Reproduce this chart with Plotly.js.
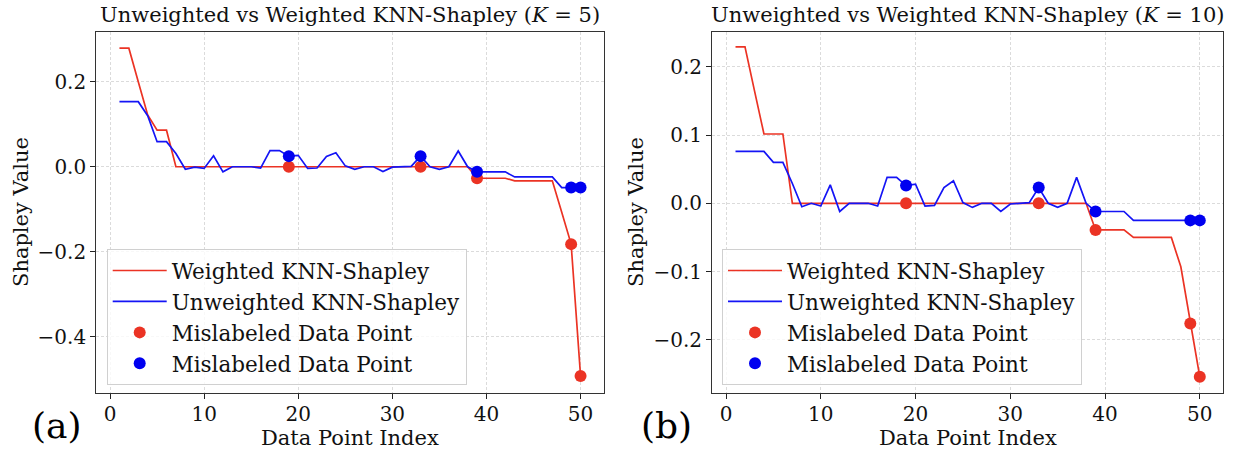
<!DOCTYPE html>
<html>
<head>
<meta charset="utf-8">
<script src="https://cdn.plot.ly/plotly-3.0.1.min.js"></script>
<style>html,body{margin:0;padding:0;background:#fff;}#chart{width:1236px;height:449px;}</style>
</head>
<body>
<div id="chart"></div>
<script>
// ---- data ----
const pointIndex = [1,2,3,4,5,6,7,8,9,10,11,12,13,14,15,16,17,18,19,20,21,22,23,24,25,26,27,28,29,30,31,32,33,34,35,36,37,38,39,40,41,42,43,44,45,46,47,48,49,50];
const mislabeledIdx = [19, 33, 39, 49, 50];

// (a) K = 5
const weightedK5 = [0.279,0.279,0.200,0.122,0.086,0.086,0,0,0,0,
  0,0,0,0,0,0,0,0,0,0,
  0,0,0,0,0,0,0,0,0,0,
  0,0,0,0,0,0,0,0,-0.027,-0.027,
  -0.027,-0.027,-0.033,-0.033,-0.033,-0.033,-0.033,-0.107,-0.182,-0.492];
const unweightedK5 = [0.153,0.153,0.153,0.120,0.059,0.059,0.031,-0.006,-0.001,-0.004,
  0.026,-0.012,0,0,0,-0.003,0.038,0.038,0.025,0.027,
  -0.004,-0.003,0.024,0.033,0.002,-0.006,0,0,-0.011,-0.001,
  0,0.001,0.025,0,-0.006,0,0.037,0,-0.012,-0.012,
  -0.012,-0.012,-0.024,-0.024,-0.024,-0.024,-0.024,-0.049,-0.049,-0.049];

// (b) K = 10
const weightedK10 = [0.229,0.229,0.165,0.1015,0.1015,0.1015,0,0,0,0,
  0,0,0,0,0,0,0,0,0,0,
  0,0,0,0,0,0,0,0,0,0,
  0,0,0,0,0,0,0,0,-0.039,-0.039,
  -0.039,-0.039,-0.050,-0.050,-0.050,-0.050,-0.050,-0.093,-0.176,-0.254];
const unweightedK10 = [0.076,0.076,0.076,0.076,0.060,0.060,0.029,-0.005,0,-0.004,
  0.027,-0.012,0,0,0,-0.004,0.038,0.038,0.026,0.028,
  -0.004,-0.003,0.023,0.033,0.001,-0.006,0,0,-0.012,-0.001,
  0,0.001,0.023,0,-0.006,0,0.038,0,-0.012,-0.012,
  -0.012,-0.012,-0.025,-0.025,-0.025,-0.025,-0.025,-0.025,-0.025,-0.025];

const seriesNames = ['Weighted KNN-Shapley','Unweighted KNN-Shapley','Mislabeled Data Point','Mislabeled Data Point'];
const panelTitles = ['Unweighted vs Weighted KNN-Shapley (<i>K</i> = 5)','Unweighted vs Weighted KNN-Shapley (<i>K</i> = 10)'];
const panelLabels = ['(a)','(b)'];
const xTitle = 'Data Point Index';
const yTitle = 'Shapley Value';

// ---- styling ----
const FONT = 'DejaVu Serif, Liberation Serif, serif';
const RED = '#eb3324';
const BLUE = '#1414f5';
const W = 1236, H = 449;

function pick(values){ return mislabeledIdx.map(i => values[pointIndex.indexOf(i)]); }

function panelTraces(weighted, unweighted, xa, ya, legendId){
  return [
    {x: pointIndex, y: weighted, type:'scatter', mode:'lines', name: seriesNames[0],
     line:{color:RED, width:1.7}, xaxis:xa, yaxis:ya, legend:legendId},
    {x: pointIndex, y: unweighted, type:'scatter', mode:'lines', name: seriesNames[1],
     line:{color:BLUE, width:1.7}, xaxis:xa, yaxis:ya, legend:legendId},
    {x: mislabeledIdx, y: pick(weighted), type:'scatter', mode:'markers', name: seriesNames[2],
     marker:{color:RED, size:12}, xaxis:xa, yaxis:ya, legend:legendId},
    {x: mislabeledIdx, y: pick(unweighted), type:'scatter', mode:'markers', name: seriesNames[3],
     marker:{color:'#0000f0', size:12}, xaxis:xa, yaxis:ya, legend:legendId}
  ];
}

const data = [].concat(
  panelTraces(weightedK5, unweightedK5, 'x', 'y', 'legend'),
  panelTraces(weightedK10, unweightedK10, 'x2', 'y2', 'legend2')
);

// pixel geometry of the two plot areas
const leftBox  = {x0: 96.4, x1: 603.6, y0: 32, y1: 392.5};
const rightBox = {x0: 712.3, x1: 1223, y0: 32, y1: 392.5};
const px = v => v / W;
const py = v => 1 - v / H;

function axisX(box, anchor){
  return {domain:[px(box.x0), px(box.x1)], anchor: anchor, range:[-1.45, 52.45],
    tickvals:[0,10,20,30,40,50], ticks:'outside', ticklen:5, tickwidth:1, tickcolor:'#222',
    ticklabelstandoff:-2,
    showline:true, mirror:true, linecolor:'#333', linewidth:1.2,
    showgrid:true, gridcolor:'#d2d2d2', gridwidth:0.8, griddash:'3px,2px',
    zeroline:false, tickfont:{family:FONT, size:20, color:'#111'}};
}
function axisY(box, anchor, range, ticks){
  return {domain:[py(box.y1), py(box.y0)], anchor: anchor, range: range,
    tickvals: ticks, tickformat:'.1f', ticks:'outside', ticklen:5, tickwidth:1, tickcolor:'#222',
    showline:true, mirror:true, linecolor:'#333', linewidth:1.2,
    showgrid:true, gridcolor:'#d2d2d2', gridwidth:0.8, griddash:'3px,2px',
    zeroline:false, tickfont:{family:FONT, size:20, color:'#111'}};
}

const legendStyle = (xPix) => ({
  x: px(xPix), y: py(249), xanchor:'left', yanchor:'top',
  bgcolor:'rgba(255,255,255,0.8)', bordercolor:'#d0d0d0', borderwidth:1,
  font:{family:FONT, size:21.5, color:'#111'}, itemwidth:54, tracegroupgap:0
});

const annotations = [];
[leftBox, rightBox].forEach((b, k) => {
  const cx = px((b.x0 + b.x1) / 2);
  annotations.push({text: panelTitles[k], xref:'paper', yref:'paper', x: cx, y: py(b.y0), yshift:3,
    xanchor:'center', yanchor:'bottom', showarrow:false, font:{family:FONT, size:21, color:'#111'}});
  annotations.push({text: xTitle, xref:'paper', yref:'paper', x: cx, y: py(438),
    xanchor:'center', yanchor:'middle', showarrow:false, font:{family:FONT, size:21, color:'#111'}});
});
annotations.push({text: yTitle, xref:'paper', yref:'paper', x: px(21), y: py(212), textangle:-90,
  xanchor:'center', yanchor:'middle', showarrow:false, font:{family:FONT, size:21, color:'#111'}});
annotations.push({text: yTitle, xref:'paper', yref:'paper', x: px(636), y: py(212), textangle:-90,
  xanchor:'center', yanchor:'middle', showarrow:false, font:{family:FONT, size:21, color:'#111'}});
annotations.push({text: panelLabels[0], xref:'paper', yref:'paper', x: px(57), y: py(425),
  xanchor:'center', yanchor:'middle', showarrow:false, font:{family:FONT, size:36, color:'#000'}});
annotations.push({text: panelLabels[1], xref:'paper', yref:'paper', x: px(667), y: py(425),
  xanchor:'center', yanchor:'middle', showarrow:false, font:{family:FONT, size:36, color:'#000'}});

const layout = {
  width: W, height: H, autosize:false,
  margin:{l:0, r:0, t:0, b:0},
  paper_bgcolor:'#fff', plot_bgcolor:'#fff',
  font:{family:FONT},
  showlegend:true,
  xaxis: axisX(leftBox, 'y'),
  yaxis: axisY(leftBox, 'x', [-0.531, 0.317], [-0.4,-0.2,0,0.2]),
  xaxis2: axisX(rightBox, 'y2'),
  yaxis2: axisY(rightBox, 'x2', [-0.277, 0.2508], [-0.2,-0.1,0,0.1,0.2]),
  legend: legendStyle(106.7),
  legend2: legendStyle(722),
  annotations: annotations
};

Plotly.newPlot('chart', data, layout, {displayModeBar:false, staticPlot:true});
</script>
</body>
</html>
